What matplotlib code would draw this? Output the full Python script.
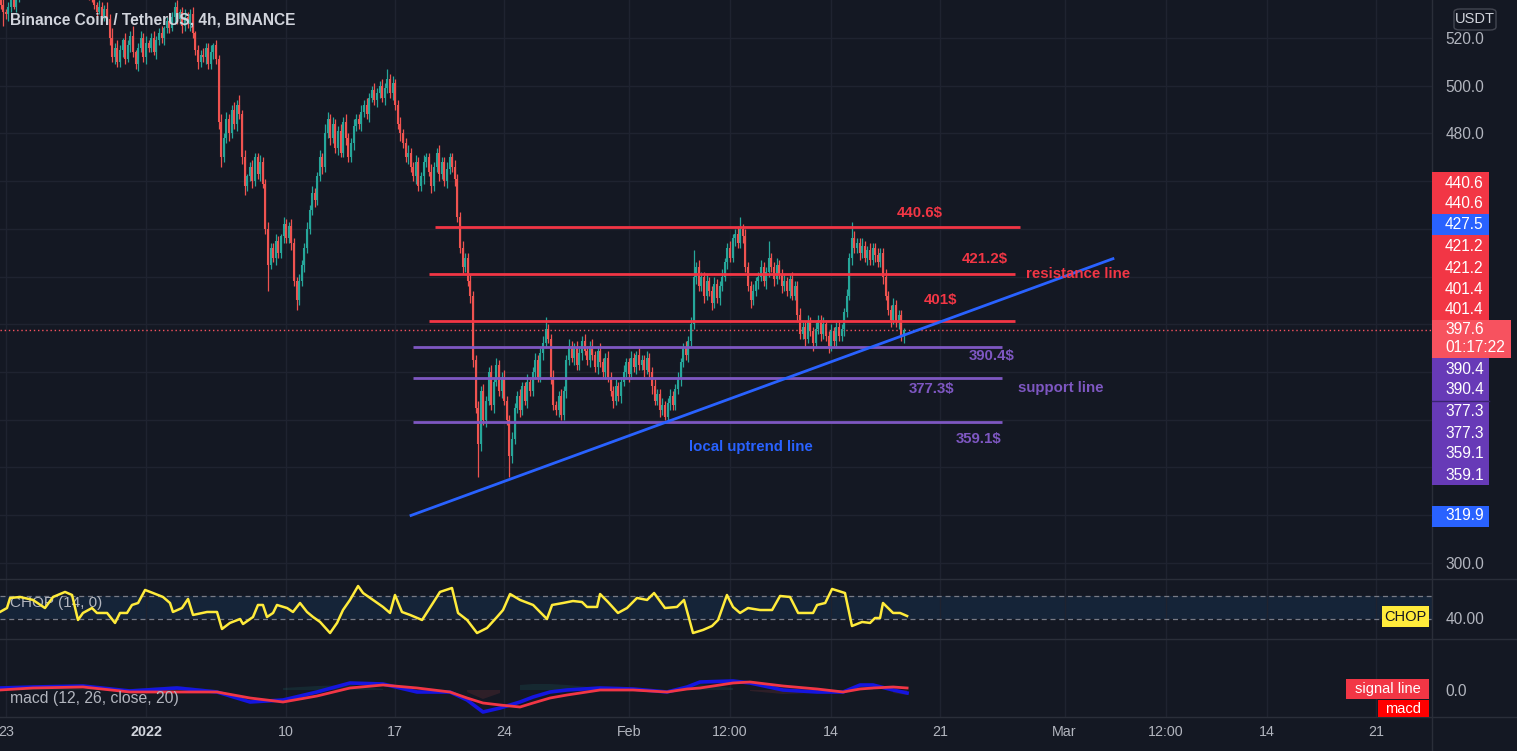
import matplotlib
matplotlib.use("Agg")
import matplotlib.pyplot as plt
from matplotlib.patches import Rectangle, FancyBboxPatch
from matplotlib.lines import Line2D
import numpy as np

plt.rcParams['font.family'] = ['Liberation Sans', 'DejaVu Sans']

# ---------------- data ----------------
title = "Binance Coin / TetherUS, 4h, BINANCE"
first_candle_day = -9 - 1/3      # days from 2022-01-01 00:00 (Dec 22, 16:00), 4h candles
first_open = 536
closes = [
    534, 531, 530, 533, 536, 533, 537, 541,
    545, 549, 552, 548, 553, 558, 556, 561, 565, 560, 557, 562, 566, 563, 558, 555, 559, 556, 551, 553, 548, 545, 549, 546, 541, 543, 539, 537,
    534, 531, 533, 529, 532, 528,
    520, 512, 516, 510,
    515, 519, 511, 517, 521,
    514, 509, 516, 520, 512, 518,
    516, 520, 514, 519, 522,
    520, 524, 527, 524, 529, 533,
    528, 531, 525, 529, 526, 530,
    522, 515, 510, 513,
    512, 516, 509, 514, 517, 511,
    485, 470,
    478, 486, 480, 490, 484, 492, 488,
    470, 458, 462,
    466, 460, 470, 463, 468, 459,
    440, 425,
    432, 428, 435, 430,
    437, 442, 436, 441, 434,
    418, 410,
    418, 425, 432, 440,
    448, 455, 452, 462, 470, 466, 480,
    486, 478, 484, 474, 481, 472,
    485, 478, 470, 476, 483, 486,
    484, 489, 492, 488, 495, 498, 494,
    497, 500, 495, 499, 503, 497, 501,
    492, 484, 480,
    476, 470, 472, 466, 462, 468, 458, 462, 468,
    470, 464, 458, 466, 472, 463, 468, 460, 465, 470, 466, 461,
    445, 432,
    424, 428, 418, 412,
    385,
    365, 350,
    372, 360, 368,
    380, 366, 376,
    383, 372, 378, 368,
    360, 345, 352, 365,
    370, 364, 374, 368, 376, 372,
    380, 385, 378, 388,
    392, 398, 394,
    378, 366,
    364, 370, 362, 372,
    385, 391,
    386, 390, 383, 388, 393, 389, 385, 391,
    387, 382, 389, 384, 380, 386,
    378, 372, 368, 374, 370, 376,
    380, 384, 379, 386, 382, 387, 383, 385, 381, 386, 380,
    374, 368, 371, 364, 366, 361, 367,
    370, 366, 373, 377,
    384, 390, 387, 393,
    400, 420,
    424, 416, 420, 412, 418,
    414, 409, 417, 411, 416, 420,
    426, 432, 428, 436,
    438, 434, 440, 437,
    424, 416, 410, 414, 418,
    420, 424, 418, 422, 428, 424, 419, 425, 421, 416,
    418, 414, 419, 412, 416,
    404, 396,
    399, 394, 401, 397, 392, 398, 402, 396, 400, 395, 391, 397, 393, 399, 395, 398,
    405, 412,
    428, 436, 432,
    434, 430, 433, 428, 431, 427, 432, 429, 426, 430,
    420, 412,
    406, 402, 408, 401, 404,
    395, 397.6]
upper_wick = [
    2,3,1,2,3,2,1,3,2,2, 3,1,2,3,2,2,3,1,2,2,
    3,2,1,2,3,2,2,1,3,2, 2,3,1,2,2,3,2,1,3,2,
    2,3,2,4,2,3,2,1,3,2, 2,4,1,2,3,2,3,1,2,3,
    2,2,3,1,2,3,2,2,3,1, 2,3,2,2,3,1,2,2,3,2,
    2,3,1,2,2,3,2,3,2,2, 3,2,4,2,3,1,2,3,2,2,
    3,2,2,3,2,2,3,2,1,3, 2,2,3,2,2,3,2,2,3,2,
    3,2,2,3,2,4,3,2,3,2, 2,3,2,3,2,2,3,2,2,3,
    2,3,2,2,3,2,2,3,2,4, 2,3,2,2,3,2,2,3,2,2,
    3,2,2,3,2,2,3,2,2,3, 2,2,3,2,2,3,2,2,3,2,
    2,3,2,2,3,2,3,2,2,3, 2,3,2,2,3,2,2,3,2,2,
    3,2,2,3,2,2,3,2,2,3, 5,2,2,3,2,2,3,2,2,3,
    2,2,3,2,2,3,2,2,3,2, 2,3,2,2,3,2,2,3,2,2,
    3,2,2,3,2,2,3,2,2,3, 2,2,3,2,2,3,2,2,3,2,
    2,3,2,2,3,2,3,11,2,3, 2,2,3,2,2,3,2,2,3,2,
    2,3,2,2,3,5,2,3,2,2, 3,2,2,3,2,2,7,2,2,3,
    2,2,3,2,2,3,2,2,3,2, 2,3,2,2,3,2,2,3,2,2,
    3,2,2,3,2,2,3,2,7,3, 2,2,3,2,2,3,2,2,3,2,
    2,3,2,2,3,2,2,2,1]
lower_wick = [
    2,6,2,3,2,1,2,2,3,2, 2,1,3,2,2,3,1,2,2,3,
    2,1,2,3,2,2,1,3,2,2, 3,1,2,2,3,2,2,3,1,2,
    2,2,3,2,3,2,2,3,2,1, 3,2,2,3,2,2,3,2,2,1,
    3,2,2,3,2,2,1,3,2,2, 3,2,2,3,2,2,3,2,2,3,
    2,2,3,2,3,4,2,2,3,2, 2,3,2,3,4,2,2,3,2,2,
    3,2,2,11,2,2,3,2,2,3, 2,2,3,2,4,2,2,3,2,2,
    2,3,2,2,3,2,2,3,2,2, 3,2,2,3,2,2,3,2,2,3,
    2,2,3,2,2,3,2,2,3,2, 2,3,2,2,3,2,2,3,2,2,
    3,2,2,3,2,2,3,2,2,3, 2,2,3,2,2,3,2,2,3,2,
    2,3,3,2,14,3,2,3,2,2, 3,2,2,3,2,2,9,3,2,2,
    3,2,2,3,2,2,3,2,2,3, 2,2,3,2,2,3,2,2,3,2,
    2,3,2,2,3,2,2,3,2,2, 3,2,2,3,2,2,3,2,2,3,
    2,2,3,2,2,3,2,2,3,2, 2,3,2,2,3,2,1,2,3,2,
    2,2,3,2,2,3,2,2,3,2, 2,3,2,2,3,2,2,3,2,2,
    3,2,2,3,2,2,3,2,2,3, 2,2,3,2,2,3,2,2,3,2,
    2,3,2,2,3,2,2,3,2,2, 3,2,2,3,2,2,3,2,2,3,
    2,2,3,2,2,3,2,2,3,2, 2,3,2,2,3,2,2,3,2,2,
    3,2,2,3,2,2,3,2,3]

last_price = 397.6
countdown = "01:17:22"

resistance_levels = [440.6, 421.2, 401.4]
resistance_labels = ["440.6$", "421.2$", "401$"]
support_levels = [390.4, 377.3, 359.1]
support_labels = ["390.4$", "377.3$", "359.1$"]
trend_day = [17.02, 62.1]
trend_price = [319.9, 427.5]

chop_day = [-9.38, -8.93, -8.73, -8.09, -7.26, -6.49, -5.97, -5.20, -4.75, -4.37, -4.05, -3.47,
            -3.15, -2.50, -1.99, -1.67, -1.22, -0.90, -0.51, -0.06, 0.45, 1.09, 1.54, 1.73,
            2.31, 2.70, 3.02, 3.92, 4.56, 4.88, 5.39, 6.04, 6.23, 6.87, 7.19, 7.51, 7.77,
            8.16, 8.41, 9.06, 9.44, 9.89, 10.34, 10.73, 11.18, 11.82, 12.27, 12.65, 13.10,
            13.62, 13.94, 14.58, 15.22, 15.67, 15.99, 16.44, 16.96, 17.73, 18.43, 18.88,
            19.65, 20.04, 20.62, 21.26, 21.90, 22.54, 22.93, 23.38, 24.02, 24.86, 25.75,
            26.08, 26.78, 27.42, 28.00, 28.32, 28.97, 29.16, 29.67, 30.31, 30.89, 31.53,
            32.18, 32.63, 33.33, 34.10, 34.55, 35.13, 35.77, 36.35, 36.74, 37.31, 37.70,
            38.15, 38.66, 39.43, 40.21, 40.72, 41.36, 41.88, 42.84, 43.10, 43.62, 44.06,
            44.89, 45.34, 45.99, 46.50, 46.82, 47.14, 47.33, 47.98, 48.43, 48.88]
chop_val = [45.6, 49.6, 59.8, 60.8, 57.8, 49.6, 60.8, 65.9, 62.8, 37.5, 44.6, 49.6,
            44.6, 44.6, 34.5, 44.6, 44.6, 52.7, 54.7, 67.9, 64.8, 60.8, 54.7, 45.6,
            49.6, 58.8, 42.6, 45.6, 45.6, 28.4, 34.5, 38.5, 33.4, 40.5, 52.7, 52.7, 40.5,
            44.6, 52.7, 49.6, 45.6, 54.7, 45.6, 40.5, 35.5, 24.3, 34.5, 47.6, 57.8,
            71.9, 64.8, 57.8, 50.7, 44.6, 62.8, 45.6, 42.6, 37.5, 54.7, 65.9,
            69.9, 44.6, 37.5, 24.3, 29.4, 40.5, 47.6, 63.8, 57.8, 52.7, 38.5,
            52.7, 54.7, 56.7, 55.7, 50.7, 50.7, 63.8, 55.7, 44.6, 49.6, 59.8,
            57.8, 64.8, 49.6, 50.7, 57.8, 24.3, 27.4, 31.4, 37.5, 62.8, 50.7,
            44.6, 49.6, 47.6, 47.6, 61.8, 60.8, 44.6, 44.6, 52.7, 54.7, 68.9,
            64.8, 31.4, 35.5, 34.5, 39.5, 39.5, 54.7, 44.6, 44.6, 41.5]
chop_band = [38.2, 61.8]

macd_day = [-9.38, -7.26, -4.05, -1.03, 1.99, 4.56, 6.68, 8.80, 10.98, 13.10, 15.22, 17.41,
            19.52, 20.62, 21.64, 22.74, 24.02, 24.86, 25.95, 27.04, 29.16, 31.28, 33.46,
            34.75, 35.58, 37.70, 38.79, 40.91, 43.10, 44.77, 45.86, 46.69, 47.98, 48.88]
macd_line = [0.8, 1.2, 1.6, -0.4, 0.8, -0.8, -4.8, -4.0, -0.8, 2.8, 2.4, -0.8,
             -0.8, -4.0, -8.8, -7.2, -4.8, -2.8, -0.8, 0.0, 0.8, 0.4, -0.8,
             1.2, 3.2, 3.6, 2.8, 0.0, -0.8, -0.8, 2.0, 2.0, 0.0, -1.2]
signal_line = [0.0, 0.8, 1.2, -0.8, -0.8, -0.8, -3.2, -4.8, -2.4, 0.8, 2.0, 0.8,
               -0.8, -3.2, -5.2, -6.0, -6.8, -5.2, -3.2, -2.0, 0.0, 0.0, -0.8,
               0.4, 0.8, 2.8, 3.2, 1.6, 0.4, -0.8, 0.4, 0.8, 1.2, 0.8]

price_grid = list(range(300, 521, 20))
price_tick_labels = [520, 500, 480, 300]
time_tick_days = [-9, 0, 9, 16, 23, 31, 37.5, 44, 51, 59, 65.5, 72, 79]
time_tick_labels = ["23", "2022", "10", "17", "24", "Feb", "12:00", "14", "21", "Mar", "12:00", "14", "21"]

# ---------------- style ----------------
W, H = 1517, 751
BG = '#141823'
GRID = '#1f2330'
SEP = '#2a2e39'
TXT = '#b2b5be'
UP = '#26a69a'
DOWN = '#ef5350'
RED = '#f23645'
PURPLE = '#7e57c2'
BLUE = '#2962ff'
AXFS = 11.2

fig = plt.figure(figsize=(W / 100, H / 100), dpi=100, facecolor=BG)

def fy(py):
    return 1 - py / H

PLOT_R = 1432
ax_p = fig.add_axes([0, fy(579), PLOT_R / W, 579 / H])
ax_c = fig.add_axes([0, fy(639), PLOT_R / W, 60 / H], sharex=ax_p)
ax_m = fig.add_axes([0, fy(717), PLOT_R / W, 78 / H], sharex=ax_p)

for ax in (ax_p, ax_c, ax_m):
    ax.set_facecolor(BG)
    for s in ax.spines.values():
        s.set_visible(False)
    ax.yaxis.tick_right()
    ax.tick_params(axis='y', length=0, pad=9.5, labelcolor=TXT, labelsize=AXFS)
    ax.tick_params(axis='x', length=0)
    ax.grid(True, axis='x', color=GRID, lw=1)
    ax.set_axisbelow(True)

ax_p.set_xlim(-9.377, 82.59)
ax_p.set_ylim(293.26, 535.93)
ax_c.set_ylim(18.24, 79.0)
ax_m.set_ylim(-10.8, 20.4)

ax_m.set_xticks(time_tick_days)
ax_m.set_xticklabels(time_tick_labels)
ax_p.tick_params(labelbottom=False)
ax_c.tick_params(labelbottom=False)
ax_m.tick_params(axis='x', pad=5.5, labelcolor=TXT, labelsize=10.3)
for lbl in ax_m.get_xticklabels():
    if lbl.get_text() == "2022":
        lbl.set_fontweight('bold')
        lbl.set_color('#d1d4dc')

ax_p.set_yticks(price_grid)
ax_p.set_yticklabels([f"{v:.1f}" if v in price_tick_labels else "" for v in price_grid])
ax_p.grid(True, axis='y', color=GRID, lw=1)
ax_c.set_yticks([40])
ax_c.set_yticklabels(["40.00"])
ax_m.set_yticks([0])
ax_m.set_yticklabels(["0.0"])

# ---------------- candles ----------------
n = min(len(closes), len(upper_wick), len(lower_wick))
c = np.array(closes[:n], dtype=float)
o = np.r_[first_open, c[:-1]]
t = first_candle_day + np.arange(n) / 6.0
hi = np.maximum(o, c) + np.array(upper_wick[:n])
lo = np.minimum(o, c) - np.array(lower_wick[:n])
cols = np.where(c >= o, UP, DOWN)
ax_p.vlines(t, lo, hi, colors=cols, lw=0.9, zorder=2)
ax_p.vlines(t, np.minimum(o, c), np.maximum(o, c), colors=cols, lw=1.5, zorder=2)

# last price dotted line
ax_p.axhline(last_price, color='#f7525f', lw=1, ls=(0, (1, 2)), zorder=1)

# drawings
res_x = [(18.56, 56.13), (18.18, 55.81), (18.18, 55.81)]
for lvl, (x0, x1) in zip(resistance_levels, res_x):
    ax_p.hlines(lvl, x0, x1, color=RED, lw=2, zorder=3)
for lvl in support_levels:
    ax_p.hlines(lvl, 17.15, 54.98, color=PURPLE, lw=2, zorder=3)
ax_p.plot(trend_day, trend_price, color=BLUE, lw=2, zorder=4)

afont = dict(fontsize=10.8, fontweight='bold', ha='center', va='center', zorder=5)
res_pos = [(49.71, 446.65), (53.89, 427.4), (51.0, 410.2)]
for s, (x, y) in zip(resistance_labels, res_pos):
    ax_p.text(x, y, s, color=RED, **afont)
ax_p.text(59.86, 421.1, "resistance line", color=RED, **afont)
sup_pos = [(54.33, 386.7), (50.48, 372.9), (53.44, 351.9)]
for s, (x, y) in zip(support_labels, sup_pos):
    ax_p.text(x, y, s, color=PURPLE, **afont)
ax_p.text(58.77, 373.3, "support line", color=PURPLE, **afont)
ax_p.text(38.86, 348.6, "local uptrend line", color=BLUE, **afont)

ax_p.text(10 / PLOT_R, 1 - 20 / 579, title, transform=ax_p.transAxes, color='#d1d4dc',
          fontsize=11.2, fontweight='bold', ha='left', va='center', zorder=6)

# ---------------- CHOP ----------------
ax_c.axhspan(chop_band[0], chop_band[1], color='#2196f3', alpha=0.1, lw=0, zorder=0)
for v in chop_band:
    ax_c.axhline(v, color='#787b86', lw=0.9, ls=(0, (4, 3)), zorder=1)
ax_c.text(10 / PLOT_R, (639 - 603) / 60, "CHOP (14, 0)", transform=ax_c.transAxes,
          color=TXT, fontsize=11, ha='left', va='center', zorder=1)
ax_c.plot(chop_day, chop_val, color='#ffeb3b', lw=1.8, zorder=3)

# ---------------- MACD ----------------
md = np.array(macd_line)
sg = np.array(signal_line)
hist = md - sg
ax_m.fill_between(macd_day, 0, hist, where=hist >= 0, color='#26a69a', alpha=0.12, lw=0, zorder=1)
ax_m.fill_between(macd_day, 0, hist, where=hist < 0, color='#ef5350', alpha=0.12, lw=0, zorder=1)
ax_m.plot(macd_day, md, color='#1515e0', lw=2.6, zorder=2)
ax_m.plot(macd_day, sg, color='#f23645', lw=2.0, zorder=3)
ax_m.text(10 / PLOT_R, (717 - 699) / 78, "macd (12, 26, close, 20)", transform=ax_m.transAxes,
          color=TXT, fontsize=11.3, ha='left', va='center', zorder=4)

# ---------------- frame separators ----------------
def hline_px(y, x0=0, x1=W):
    fig.add_artist(Line2D([x0 / W, x1 / W], [fy(y), fy(y)], color=SEP, lw=1, zorder=4))

for y in (579, 639, 717):
    hline_px(y)
fig.add_artist(Line2D([PLOT_R / W, PLOT_R / W], [0, 1], color=SEP, lw=1, zorder=4))

# ---------------- right-axis tags ----------------
def rect_px(x0, y0, x1, y1, color, z=7):
    fig.add_artist(Rectangle((x0 / W, fy(y1)), (x1 - x0) / W, (y1 - y0) / H,
                             transform=fig.transFigure, facecolor=color, edgecolor='none', zorder=z))

def text_px(x, y, s, color='white', ha='left', size=AXFS, weight='normal', z=8):
    fig.text(x / W, fy(y), s, color=color, ha=ha, va='center', fontsize=size,
             fontweight=weight, zorder=z)

TAG_X0, TAG_X1 = 1432, 1489
rect_px(TAG_X0, 172, TAG_X1, 214, RED)
rect_px(TAG_X0, 235, TAG_X1, 320, RED)
rect_px(TAG_X0, 214, TAG_X1, 235, BLUE)
rect_px(TAG_X0, 320, 1511, 358, '#f7525f')
rect_px(TAG_X0, 358, TAG_X1, 485, '#673ab7')
fig.add_artist(Line2D([TAG_X0 / W, TAG_X1 / W], [fy(401), fy(401)], color='#3a2470', lw=1, zorder=8))
rect_px(TAG_X0, 506, TAG_X1, 527, BLUE)

tag_vals = [(resistance_levels[0], 183), (resistance_levels[0], 203), (trend_price[1], 224.5),
            (resistance_levels[1], 246), (resistance_levels[1], 268),
            (resistance_levels[2], 289), (resistance_levels[2], 310),
            (support_levels[0], 370), (support_levels[0], 390),
            (support_levels[1], 412), (support_levels[1], 433),
            (support_levels[2], 454), (support_levels[2], 475),
            (trend_price[0], 516)]
for v, y in tag_vals:
    text_px(1445, y, f"{v:.1f}")
text_px(1445, 330, f"{last_price:.1f}")
text_px(1445, 348, countdown)

# USDT box
fig.add_artist(FancyBboxPatch((1454 / W, fy(30)), 42 / W, 21 / H,
                              boxstyle="round,pad=0,rounding_size=0.004",
                              transform=fig.transFigure, facecolor=BG,
                              edgecolor='#434651', lw=1, zorder=7))
text_px(1475, 19, "USDT", color='#d1d4dc', ha='center', size=10.5)

# CHOP / MACD tags
rect_px(1382, 606, 1429, 627, '#ffeb3b')
text_px(1405.5, 617, "CHOP", color='#131722', ha='center', size=10.5)
rect_px(1346, 679, 1429, 699, RED)
text_px(1387.5, 689, "signal line", ha='center', size=10.5)
rect_px(1378, 700, 1429, 717, '#ff0000')
text_px(1403.5, 709, "macd", ha='center', size=10.5)

fig.savefig("out.png", dpi=100, facecolor=BG)
